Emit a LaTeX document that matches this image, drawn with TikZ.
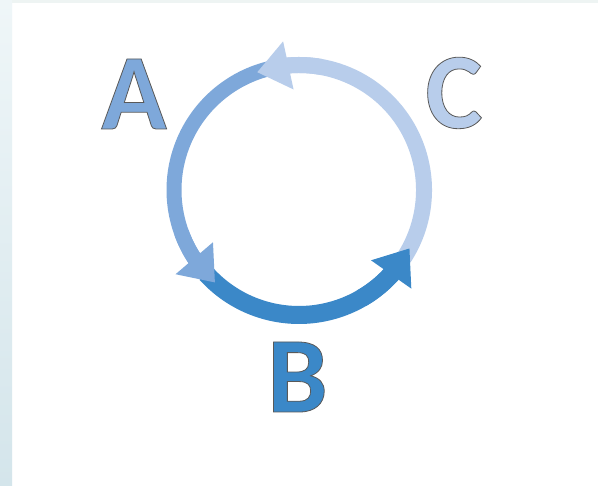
\documentclass[tikz,border=0pt]{standalone}
\usepackage{fontspec}
\setmainfont{Carlito}
\usetikzlibrary{arrows.meta,bending}
\definecolor{acol}{HTML}{7EA8DA}
\definecolor{bcol}{HTML}{3B88C8}
\definecolor{ccol}{HTML}{B8CDEB}
\definecolor{stripT}{HTML}{EFF6F8}
\definecolor{stripB}{HTML}{D4E5EB}
\definecolor{topstrip}{HTML}{EEF4F3}
\newcommand{\outlinedtext}[1]{\special{pdf:literal 0.35 0.35 0.35 RG 0.8 w 2 Tr}#1\special{pdf:literal 0 Tr}}
\begin{document}
\begin{tikzpicture}[x=1pt,y=1pt,
  ring/.style={line width=#1, line cap=butt},
  tipA/.style={-{Triangle[length=32pt,width=47pt,flex]}},
  letter/.style={anchor=base, inner sep=0pt, font=\fontsize{108}{108}\selectfont\bfseries}]
\useasboundingbox (0,0) rectangle (598,486);
% background
\fill[white] (0,0) rectangle (598,486);
\fill[topstrip] (0,483) rectangle (598,486);
\shade[top color=stripT, bottom color=stripB] (0,0) rectangle (12,486);
\coordinate (ctr) at (299,296);
% arc lines
\draw[acol, ring=15pt] ([shift={(104:125)}]ctr) arc[start angle=104, end angle=216, radius=125];
\draw[bcol, ring=18pt] ([shift={(222:125)}]ctr) arc[start angle=222, end angle=318, radius=125];
\draw[ccol, ring=16pt] ([shift={(-33:125)}]ctr) arc[start angle=-33, end angle=98, radius=125];
% arrowheads on top
\draw[acol, ring=15pt, tipA] ([shift={(200:125)}]ctr) arc[start angle=200, end angle=227.8, radius=125];
\draw[bcol, ring=18pt, tipA] ([shift={(300:125)}]ctr) arc[start angle=300, end angle=332.2, radius=125];
\draw[ccol, ring=16pt, tipA] ([shift={(80:125)}]ctr) arc[start angle=80, end angle=109.6, radius=125];
% letters
\node[letter, text=acol] (A) at (134,357) {\outlinedtext{A}};
\node[letter, text=bcol] (B) at (297.5,74) {\outlinedtext{B}};
\node[letter, text=ccol] (C) at (454,358) {\outlinedtext{C}};
\end{tikzpicture}
\end{document}
